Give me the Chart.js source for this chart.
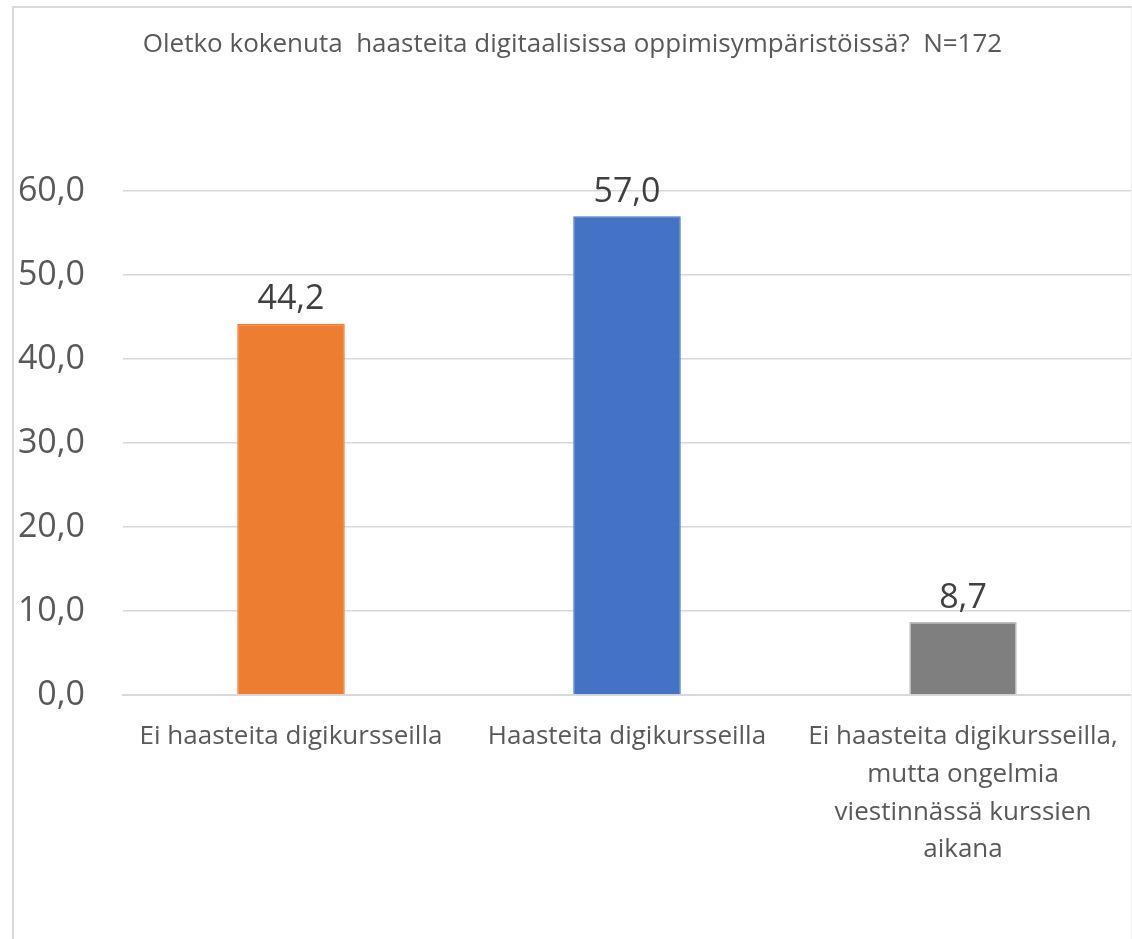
<!DOCTYPE html>
<html>
<head>
<meta charset="utf-8">
<script src="https://cdn.jsdelivr.net/npm/chart.js@4.4.0/dist/chart.umd.min.js"></script>
<style>
  body { margin: 0; background: #fff; overflow: hidden; }
  #wrap { position: relative; width: 1132px; height: 939px; }
  #frame {
    position: absolute; left: 12px; top: 6px; width: 1120px; height: 1000px;
    box-sizing: border-box;
    border: 2px solid #d9d9d9; border-right: 1px solid #eeeeee; pointer-events: none;
  }
</style>
</head>
<body>
<div id="wrap">
  <canvas id="chart"></canvas>
  <div id="frame"></div>
</div>
<script>
// Chart data
const categories = [
    'Ei haasteita digikursseilla',
    'Haasteita digikursseilla',
    ['Ei haasteita digikursseilla,', 'mutta ongelmia', 'viestinnässä kurssien', 'aikana']
];
const values = [44.2, 57.0, 8.7];
const barColors = ['#ED7D31', '#4472C4', '#7F7F7F'];
const borderColors = ['#ED7D31', '#4472C4', '#BFBFBF'];
const yTicks = [0, 10, 20, 30, 40, 50, 60];
const chartTitle = 'Oletko kokenuta  haasteita digitaalisissa oppimisympäristöissä?  N=172';

const fontFamily = '"Open Sans", "Noto Sans", sans-serif';

// Format numbers with a decimal comma
function fi(v) {
    return Number(v).toFixed(1).replace('.', ',');
}

// Value labels above the bars
const valueLabels = {
    id: 'valueLabels',
    afterDatasetsDraw(chart) {
        const ctx = chart.ctx;
        const meta = chart.getDatasetMeta(0);
        ctx.save();
        ctx.font = '34px ' + fontFamily;
        ctx.fillStyle = '#404040';
        ctx.textAlign = 'center';
        ctx.textBaseline = 'bottom';
        meta.data.forEach((bar, i) => {
            ctx.fillText(fi(values[i]), bar.x, bar.y - 7);
        });
        ctx.restore();
    }
};

const ctx = document.getElementById('chart').getContext('2d');
const chart = new Chart(ctx, {
    type: 'bar',
    data: {
        labels: categories,
        datasets: [{
            data: values,
            backgroundColor: barColors,
            borderColor: borderColors,
            borderWidth: 1.5,
            barPercentage: 1,
            categoryPercentage: 0.32
        }]
    },
    options: {
        responsive: true,
        maintainAspectRatio: false,
        animation: false,
        layout: { padding: { left: 14, right: 1, top: 10, bottom: 0 } },
        plugins: {
            legend: { display: false },
            tooltip: { enabled: false },
            title: {
                display: true,
                text: chartTitle,
                color: '#595959',
                font: { family: fontFamily, size: 26, weight: 'normal', lineHeight: 1.2 },
                padding: { top: 19, bottom: 130.8 }
            }
        },
        scales: {
            x: {
                grid: { display: false },
                border: { display: true, color: '#d9d9d9', width: 2 },
                ticks: {
                    color: '#595959',
                    font: { family: fontFamily, size: 26, lineHeight: 1.45 },
                    padding: 15,
                    maxRotation: 0,
                    autoSkip: false
                },
                afterFit(scale) {
                    scale.height = 244;
                    scale.paddingLeft = 0;
                    scale.paddingRight = 0;
                }
            },
            y: {
                min: 0,
                max: 60,
                afterBuildTicks(scale) {
                    scale.ticks = yTicks.map(v => ({ value: v }));
                },
                grid: { color: '#d9d9d9', lineWidth: 1.5, drawTicks: false },
                border: { display: false },
                ticks: {
                    color: '#595959',
                    font: { family: fontFamily, size: 34 },
                    padding: 38,
                    callback: v => fi(v)
                },
                afterFit(scale) { scale.width = 109; }
            }
        }
    },
    plugins: [valueLabels]
});
</script>
</body>
</html>
